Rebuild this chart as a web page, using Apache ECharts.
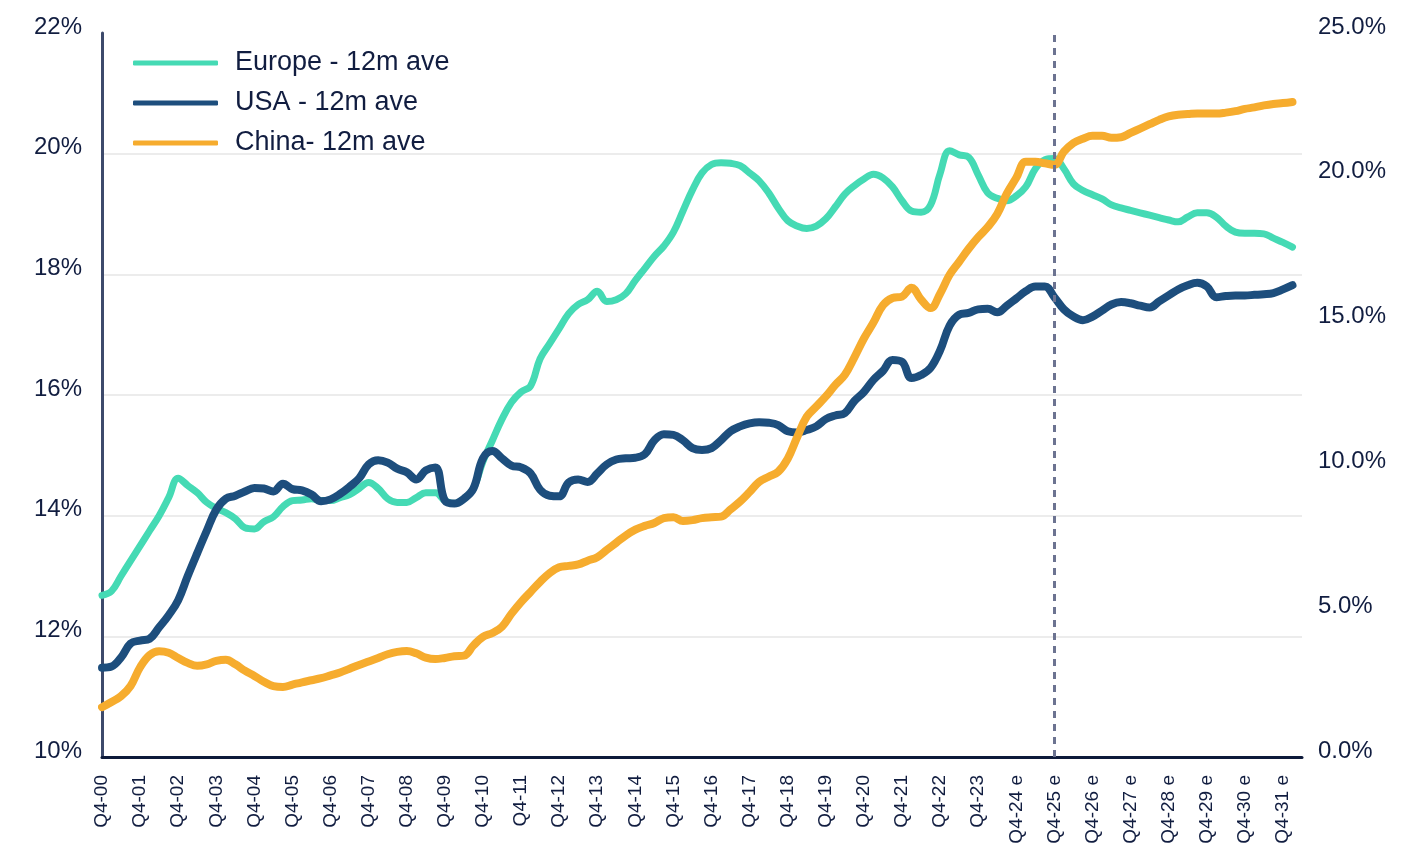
<!DOCTYPE html>
<html>
<head>
<meta charset="utf-8">
<script src="https://cdn.jsdelivr.net/npm/echarts@6/dist/echarts.min.js"></script>
<style>
  html, body { margin: 0; padding: 0; background: #fff; }
  #container { width: 1418px; height: 857px; }
</style>
</head>
<body>
<div id="container"></div>
<script>
// x axis tick labels (one per Q4)
var tickLabels = [
  "Q4-00", "Q4-01", "Q4-02", "Q4-03", "Q4-04", "Q4-05", "Q4-06", "Q4-07",
  "Q4-08", "Q4-09", "Q4-10", "Q4-11", "Q4-12", "Q4-13", "Q4-14", "Q4-15",
  "Q4-16", "Q4-17", "Q4-18", "Q4-19", "Q4-20", "Q4-21", "Q4-22", "Q4-23",
  "Q4-24 e", "Q4-25 e", "Q4-26 e", "Q4-27 e", "Q4-28 e", "Q4-29 e", "Q4-30 e", "Q4-31 e"
];
var forecastStart = "Q4-25 e";

// quarterly values, Q4-00 onwards (left axis, %)
var europe = [
  12.68, 12.75, 13.0, 13.25, 13.5, 13.75, 14.0, 14.3, 14.62, 14.5,
  14.38, 14.22, 14.12, 14.05, 13.95, 13.8, 13.78, 13.9, 13.98, 14.15,
  14.25, 14.26, 14.28, 14.25, 14.25, 14.3, 14.35, 14.45, 14.55, 14.45,
  14.28, 14.22, 14.22, 14.3, 14.38, 14.38, 14.25, 14.2, 14.28, 14.45,
  14.9, 15.25, 15.6, 15.88, 16.05, 16.15, 16.6, 16.85, 17.1, 17.35,
  17.5, 17.58, 17.72, 17.55, 17.58, 17.68, 17.9, 18.1, 18.3, 18.47,
  18.7, 19.05, 19.4, 19.68, 19.82, 19.85, 19.84, 19.8, 19.68, 19.55,
  19.35, 19.1, 18.89, 18.8, 18.76, 18.8, 18.92, 19.12, 19.33, 19.47,
  19.58, 19.66, 19.6, 19.45, 19.22, 19.05, 19.03, 19.15, 19.67, 20.05,
  19.98, 19.94, 19.65, 19.35, 19.26, 19.22, 19.3, 19.45, 19.75, 19.9,
  19.92, 19.75, 19.5, 19.39, 19.32, 19.25, 19.15, 19.1, 19.06, 19.02,
  18.98, 18.94, 18.9, 18.87, 18.95, 19.02, 19.02, 18.95, 18.8, 18.7,
  18.68, 18.68, 18.67, 18.6, 18.53, 18.45
];
var usa = [
  11.48, 11.5, 11.65, 11.88, 11.93, 11.96, 12.15, 12.35, 12.6, 13.0,
  13.38, 13.75, 14.1, 14.28, 14.33, 14.4, 14.46, 14.45, 14.4, 14.53,
  14.44, 14.42, 14.35, 14.24, 14.27, 14.36, 14.48, 14.62, 14.85, 14.92,
  14.88, 14.78, 14.72, 14.6, 14.75, 14.8, 14.25, 14.2, 14.28, 14.45,
  14.95, 15.07, 14.95, 14.83, 14.8, 14.7, 14.43, 14.33, 14.32, 14.55,
  14.6, 14.56, 14.7, 14.85, 14.93, 14.95, 14.96, 15.02, 15.25, 15.35,
  15.34, 15.25, 15.12, 15.09, 15.12, 15.25, 15.4, 15.48, 15.53, 15.55,
  15.54, 15.5, 15.4, 15.38, 15.42, 15.48, 15.6, 15.66, 15.7, 15.9,
  16.05, 16.25, 16.4, 16.58, 16.55, 16.28, 16.33, 16.45, 16.74, 17.15,
  17.33, 17.36, 17.42, 17.43, 17.37, 17.48, 17.6, 17.72, 17.8, 17.8,
  17.62, 17.42, 17.3, 17.24, 17.3, 17.4, 17.5, 17.54, 17.52, 17.48,
  17.45, 17.55, 17.65, 17.75, 17.82, 17.86, 17.8, 17.62, 17.64, 17.65,
  17.65, 17.66, 17.67, 17.69, 17.75, 17.82
];
// right axis, %
var china = [
  1.72, 1.9, 2.1, 2.45, 3.1, 3.52, 3.65, 3.6, 3.42, 3.25,
  3.15, 3.2, 3.32, 3.36, 3.2, 2.98, 2.8, 2.6, 2.45, 2.42,
  2.5, 2.58, 2.65, 2.72, 2.82, 2.92, 3.05, 3.18, 3.3, 3.42,
  3.55, 3.63, 3.66, 3.58, 3.43, 3.38, 3.42, 3.48, 3.5, 3.85,
  4.15, 4.28, 4.5, 4.95, 5.35, 5.7, 6.05, 6.35, 6.55, 6.6,
  6.65, 6.78, 6.9, 7.15, 7.4, 7.65, 7.85, 7.98, 8.08, 8.25,
  8.28, 8.15, 8.18, 8.25, 8.28, 8.3, 8.55, 8.82, 9.15, 9.5,
  9.68, 9.85, 10.3, 11.05, 11.75, 12.1, 12.45, 12.85, 13.2, 13.8,
  14.45, 15.0, 15.6, 15.85, 15.9, 16.2, 15.8, 15.5, 16.0, 16.65,
  17.1, 17.55, 17.95, 18.3, 18.75, 19.45, 20.0, 20.55, 20.55, 20.5,
  20.45, 20.9, 21.2, 21.35, 21.45, 21.45, 21.38, 21.4, 21.55, 21.7,
  21.85, 22.0, 22.12, 22.18, 22.2, 22.22, 22.22, 22.22, 22.25, 22.3,
  22.38, 22.43, 22.5, 22.55, 22.58, 22.62
];

// quarterly categories Q4-00 .. Q2-32, Q4 entries carry the tick label
var categories = [];
for (var i = 0; i < 127; i++) {
  if (i % 4 === 0) {
    categories.push(tickLabels[i / 4]);
  } else {
    var yr = 2001 + Math.floor((i - 1) / 4);
    categories.push("Q" + (((i - 1) % 4) + 1) + "-" + String(yr).slice(2));
  }
}

var dom = document.getElementById("container");
var myChart = echarts.init(dom);
var font = "'Liberation Sans', Arial, sans-serif";
var txt = "#111d40";

var option = {
  animation: false,
  backgroundColor: "#ffffff",
  grid: { left: 102, right: 116, top: 33, bottom: 100 },
  legend: {
    orient: "vertical",
    left: 133,
    top: 48,
    padding: 0,
    itemWidth: 85,
    itemHeight: 5,
    itemGap: 10,
    icon: "roundRect",
    textStyle: {
      fontFamily: font,
      fontSize: 27,
      color: txt,
      lineHeight: 30,
      padding: [0, 0, 0, 12]
    },
    data: ["Europe - 12m ave", "USA - 12m ave", "China- 12m ave"]
  },
  xAxis: {
    type: "category",
    boundaryGap: false,
    data: categories,
    axisLine: { lineStyle: { color: "#0d1a3a", width: 3 } },
    axisTick: { show: false },
    axisLabel: {
      interval: function(idx) { return idx % 4 === 0; },
      rotate: 90,
      margin: 18,
      fontFamily: font,
      fontSize: 19,
      color: txt
    },
    splitLine: { show: false }
  },
  yAxis: [
    {
      type: "value",
      min: 10,
      max: 22,
      interval: 2,
      axisLine: { show: true, lineStyle: { color: "#3d4a6b", width: 3 } },
      axisTick: { show: false },
      axisLabel: {
        formatter: "{value}%",
        margin: 20,
        fontFamily: font,
        fontSize: 24,
        color: txt,
        verticalAlign: "bottom",
        lineHeight: 12
      },
      splitLine: {
        show: true,
        showMinLine: false,
        showMaxLine: false,
        lineStyle: { color: "#ececec", width: 2 }
      }
    },
    {
      type: "value",
      min: 0,
      max: 25,
      interval: 5,
      axisLine: { show: false },
      axisTick: { show: false },
      axisLabel: {
        formatter: function(v) { return v.toFixed(1) + "%"; },
        margin: 16,
        fontFamily: font,
        fontSize: 24,
        color: txt,
        verticalAlign: "bottom",
        lineHeight: 12
      },
      splitLine: { show: false }
    }
  ],
  series: [
    {
      name: "Europe - 12m ave",
      type: "line",
      yAxisIndex: 0,
      data: europe,
      smooth: 0.4,
      showSymbol: false,
      symbol: "none",
      color: "#45dab4",
      lineStyle: { width: 7, color: "#45dab4", cap: "round", join: "round" },
      markLine: {
        silent: true,
        symbol: "none",
        label: { show: false },
        lineStyle: { color: "#6c7391", width: 3, type: [7, 6] },
        data: [{ xAxis: forecastStart }]
      }
    },
    {
      name: "USA - 12m ave",
      type: "line",
      yAxisIndex: 0,
      data: usa,
      smooth: 0.4,
      showSymbol: false,
      symbol: "none",
      color: "#1d4e7d",
      lineStyle: { width: 8, color: "#1d4e7d", cap: "round", join: "round" }
    },
    {
      name: "China- 12m ave",
      type: "line",
      yAxisIndex: 1,
      data: china,
      smooth: 0.4,
      showSymbol: false,
      symbol: "none",
      color: "#f6ac2e",
      lineStyle: { width: 8, color: "#f6ac2e", cap: "round", join: "round" }
    }
  ]
};

if (option && typeof option === "object") {
  myChart.setOption(option, true);
}
</script>
</body>
</html>
